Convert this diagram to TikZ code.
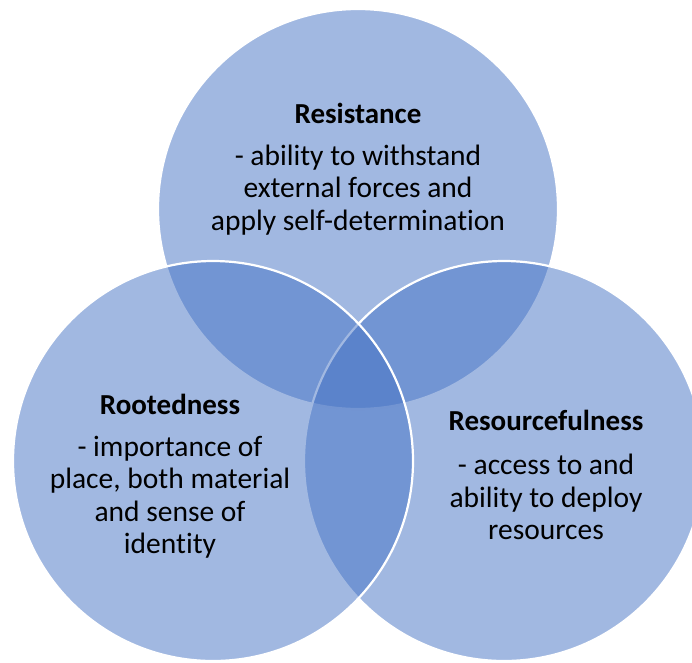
\documentclass[tikz,border=0pt]{standalone}
\usepackage{fontspec}
\setmainfont{Carlito}[RawFeature=-liga]
\usetikzlibrary{positioning}
\definecolor{vennblue}{HTML}{4472C4}
\tikzset{
    ring/.style={circle, minimum size=400pt, inner sep=0pt, fill=vennblue,
        fill opacity=0.5, draw=white, draw opacity=1, line width=2.2pt},
    headtext/.style={inner sep=0pt, font=\bfseries\fontsize{29}{33}\selectfont},
    bodytext/.style={inner sep=0pt, align=center, font=\fontsize{29.5}{32.5}\selectfont}
}

\begin{document}
\begin{tikzpicture}[x=1pt, y=-1pt]

    % Fix the page to the size of the picture
    \useasboundingbox (0,0) rectangle (692,662);

    % Three circles: top first, then right, then left on top
    \node[ring] (resistance) at (358,209) {};
    \node[ring] (resourceful) at (504,461) {};
    \node[ring] (rooted) at (213,461) {};

    % Labels of the top circle
    \node[headtext] (resistancehead) at (358,113) {Resistance};
    \node[bodytext] (resistancebody) at (358,190) {- ability to withstand\\external forces and\\apply self-determination};

    % Labels of the left circle
    \node[headtext] (rootedhead) at (170,404) {Rootedness};
    \node[bodytext] (rootedbody) at (170,497) {- importance of\\place, both material\\and sense of\\identity};

    % Labels of the right circle
    \node[headtext] (resourcefulhead) at (546,420) {Resourcefulness};
    \node[bodytext] (resourcefulbody) at (546,497) {- access to and\\ability to deploy\\resources};

\end{tikzpicture}
\end{document}
